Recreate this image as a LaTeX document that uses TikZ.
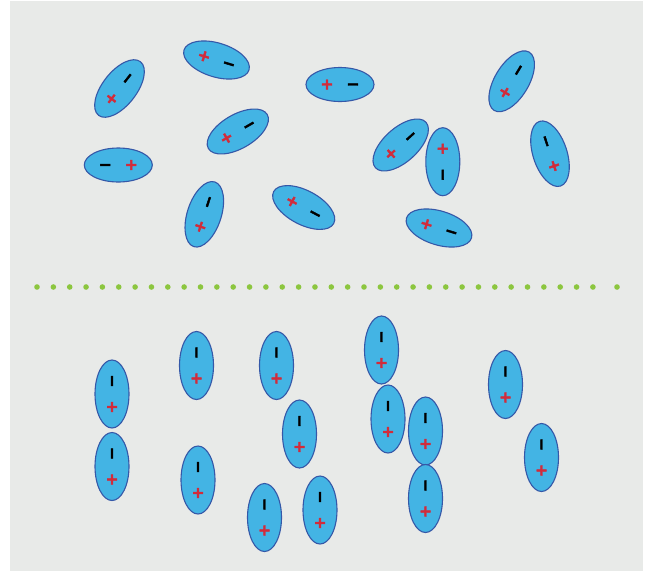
\documentclass[tikz,border=0pt]{standalone}
\usepackage{fontspec}
\newfontfamily\symfont{DejaVu Sans}[FakeBold=3]
\definecolor{bgray}{HTML}{E8EAE8}
\definecolor{dipfill}{HTML}{43B4E4}
\definecolor{dipline}{HTML}{3558A8}
\definecolor{chargered}{HTML}{D22B3A}
\definecolor{dotgreen}{HTML}{8CC63F}
\usetikzlibrary{shapes.geometric}
\tikzset{
  dipole/.style={ellipse, draw=dipline, fill=dipfill, line width=1.1pt,
    minimum width=68pt, minimum height=34pt, inner sep=0pt},
  chargesym/.style={inner sep=0pt, text height=9.9pt, text depth=0pt,
    font=\symfont\bfseries\fontsize{15.5}{15.5}\selectfont},
  negcharge/.style={chargesym, text=black},
  poscharge/.style={chargesym, text=chargered},
  sepdot/.style={circle, fill=dotgreen, minimum size=5.6pt, inner sep=0pt}
}
\newcommand\dipo[4]{%
  \node[dipole, rotate=#4] (#1) at (#2,#3) {};
  \node[negcharge, rotate=#4] (#1m) at ([shift={(#4:13pt)}]#1.center) {−};
  \node[poscharge, rotate=#4] (#1p) at ([shift={(#4+180:13pt)}]#1.center) {+};
}
\begin{document}
\begin{tikzpicture}[x=1pt, y=-1pt]
\useasboundingbox (0,0) rectangle (647,571);
\fill[bgray] (10,1) rectangle (643,571);
% upper, random orientations
\dipo{t1}{119.5}{88.5}{52}
\dipo{t2}{216.5}{60}{-17}
\dipo{t3}{340}{84.5}{0}
\dipo{t4}{511.7}{81.3}{59}
\dipo{t5}{118.3}{165}{180}
\dipo{t6}{237.8}{131.5}{30}
\dipo{t7}{400.7}{145}{42}
\dipo{t8}{442.8}{161.7}{-90}
\dipo{t9}{550}{153.7}{108}
\dipo{t10}{204.3}{214.3}{72}
\dipo{t11}{303.7}{207.5}{-28}
\dipo{t12}{439}{228}{-17}
% separator
\foreach \i in {0,...,34} \node[sepdot] (d\i) at ({37+\i*16.35},287) {};
\node[sepdot] (dlast) at (617,287) {};
% lower, aligned
\dipo{b1}{112}{394}{90}
\dipo{b2}{112}{466.5}{90}
\dipo{b3}{196.5}{365.5}{90}
\dipo{b4}{198}{480}{90}
\dipo{b5}{276.5}{365.5}{90}
\dipo{b6}{299.5}{434}{90}
\dipo{b7}{264.5}{517.5}{90}
\dipo{b8}{320}{510}{90}
\dipo{b9}{381.5}{350}{90}
\dipo{b10}{388}{419}{90}
\dipo{b11}{425.5}{431}{90}
\dipo{b12}{425.5}{498.5}{90}
\dipo{b13}{505.5}{384.5}{90}
\dipo{b14}{541.5}{457.5}{90}
\end{tikzpicture}
\end{document}
